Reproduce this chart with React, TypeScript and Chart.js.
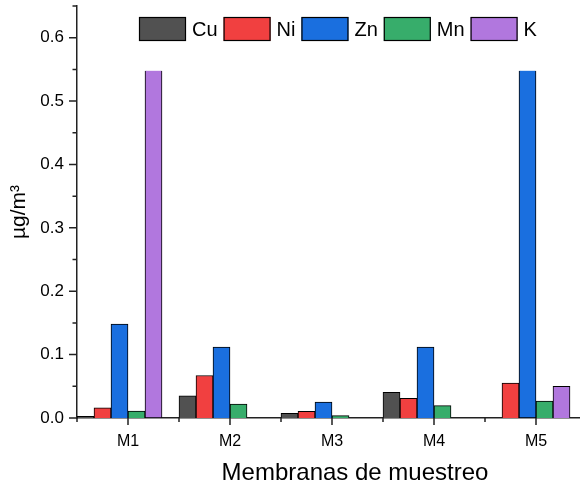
import React, { useEffect, useRef } from "react";
import { Chart, registerables } from "chart.js";

Chart.register(...registerables);

// ---- data ----
const categories = ["M1", "M2", "M3", "M4", "M5"];
const seriesNames = ["Cu", "Ni", "Zn", "Mn", "K"];
const cuValues = [0.0025, 0.035, 0.0075, 0.0405, null];
const niValues = [0.016, 0.067, 0.0105, 0.031, 0.055];
const znValues = [0.148, 0.112, 0.025, 0.112, 0.548];
const mnValues = [0.011, 0.022, 0.0037, 0.0195, 0.0265];
const kValues = [0.548, null, null, null, 0.05];
const yTickValues = [0, 0.1, 0.2, 0.3, 0.4, 0.5, 0.6];
const yMinorValues = [0.05, 0.15, 0.25, 0.35, 0.45, 0.55, 0.65];
const yMax = 0.65;
const xTitle = "Membranas de muestreo";
const yTitle = "µg/m³";

// ---- styles ----
const seriesColors = ["#515151", "#F14040", "#1A6FDF", "#37AD6B", "#B177DE"];
const FONT = "'Liberation Sans', Arial, sans-serif";
const AXIS_COLOR = "#222222";

const decorPlugin = {
  id: "decor",
  afterDraw(chart: any) {
    const { ctx, chartArea, scales } = chart;
    const { left, right, top, bottom } = chartArea;
    const x = scales.x;
    const y = scales.y;
    ctx.save();
    ctx.strokeStyle = AXIS_COLOR;
    ctx.lineWidth = 1.5;
    // y ticks
    ctx.beginPath();
    yTickValues.forEach((v) => {
      const py = y.getPixelForValue(v);
      ctx.moveTo(left - 8, py);
      ctx.lineTo(left, py);
    });
    yMinorValues.forEach((v) => {
      const py = y.getPixelForValue(v);
      ctx.moveTo(left - 4.5, py);
      ctx.lineTo(left, py);
    });
    // x ticks
    const half = (x.getPixelForValue(1) - x.getPixelForValue(0)) / 2;
    categories.forEach((_, i) => {
      const px = x.getPixelForValue(i);
      ctx.moveTo(px, bottom);
      ctx.lineTo(px, bottom + 7);
      ctx.moveTo(px - half, bottom);
      ctx.lineTo(px - half, bottom + 4);
      ctx.moveTo(px + half, bottom);
      ctx.lineTo(px + half, bottom + 4);
    });
    ctx.stroke();

    // axis titles
    ctx.fillStyle = "#000";
    ctx.font = `24px ${FONT}`;
    ctx.textAlign = "center";
    ctx.textBaseline = "alphabetic";
    ctx.fillText(xTitle, (left + right) / 2 + 23, 480);

    ctx.save();
    ctx.translate(19, (top + bottom) / 2);
    ctx.rotate(-Math.PI / 2);
    ctx.font = `21px ${FONT}`;
    ctx.textBaseline = "middle";
    ctx.fillText(yTitle, 0, 0);
    ctx.restore();

    // legend
    ctx.font = `20px ${FONT}`;
    ctx.textAlign = "left";
    ctx.textBaseline = "middle";
    let lx = 139;
    const boxTop = 17;
    const boxW = 47;
    const boxH = 24;
    chart.data.datasets.forEach((ds: any) => {
      if (!ds.label) return;
      ctx.fillStyle = ds.backgroundColor;
      ctx.fillRect(lx, boxTop, boxW, boxH);
      ctx.strokeStyle = "#000";
      ctx.lineWidth = 1.2;
      ctx.strokeRect(lx + 0.5, boxTop + 0.5, boxW - 1, boxH - 1);
      ctx.fillStyle = "#000";
      ctx.fillText(ds.label, lx + boxW + 6, boxTop + boxH / 2 + 1);
      lx += boxW + 6 + ctx.measureText(ds.label).width + 6;
    });
    ctx.restore();
  },
};

export default function App() {
  const canvasRef = useRef<HTMLCanvasElement | null>(null);

  useEffect(() => {
    const canvas = canvasRef.current;
    if (!canvas) return;
    const seriesData = [cuValues, niValues, znValues, mnValues, kValues];
    const datasets: any[] = seriesNames.map((name, i) => ({
      label: name,
      data: seriesData[i],
      backgroundColor: seriesColors[i],
      borderColor: "#000000",
      borderWidth: 1,
      borderSkipped: (c: any) => (c.raw != null && c.raw >= 0.54 ? "top" : "start"),
      categoryPercentage: 1,
      barPercentage: 1,
    }));
    // empty slot that leaves the gap on the right of each group
    datasets.push({
      label: "",
      data: categories.map(() => null),
      backgroundColor: "rgba(0,0,0,0)",
      borderWidth: 0,
      categoryPercentage: 1,
      barPercentage: 1,
    });

    const chart = new Chart(canvas, {
      type: "bar",
      data: { labels: categories, datasets },
      options: {
        animation: false,
        responsive: false,
        devicePixelRatio: 1,
        layout: { padding: { left: 0, top: 6, right: 33, bottom: 0 } },
        plugins: { legend: { display: false }, tooltip: { enabled: false } },
        scales: {
          x: {
            grid: { display: false, drawTicks: false },
            border: { display: true, color: AXIS_COLOR, width: 1.5 },
            ticks: {
              color: "#000",
              font: { family: FONT, size: 16 },
              padding: 14,
              maxRotation: 0,
            },
            afterFit: (s: any) => {
              s.height = 69;
              s.paddingLeft = 0;
              s.paddingRight = 0;
            },
          },
          y: {
            min: 0,
            max: yMax,
            grid: { display: false, drawTicks: false },
            border: { display: true, color: AXIS_COLOR, width: 1.5 },
            ticks: {
              stepSize: 0.1,
              color: "#000",
              font: { family: FONT, size: 17 },
              padding: 13,
              callback: (v: any) => {
                const n = Number(v);
                return yTickValues.some((t) => Math.abs(t - n) < 1e-9) ? n.toFixed(1) : null;
              },
            },
            afterFit: (s: any) => {
              s.width = 77;
              s.paddingTop = 0;
              s.paddingBottom = 0;
            },
          },
        },
      },
      plugins: [decorPlugin],
    });
    return () => chart.destroy();
  }, []);

  return (
    <div
      style={{
        position: "fixed",
        left: 0,
        top: 0,
        width: 580,
        height: 487,
        overflow: "hidden",
        background: "#fff",
      }}
    >
      <canvas ref={canvasRef} width={620} height={487} style={{ display: "block" }} />
    </div>
  );
}
